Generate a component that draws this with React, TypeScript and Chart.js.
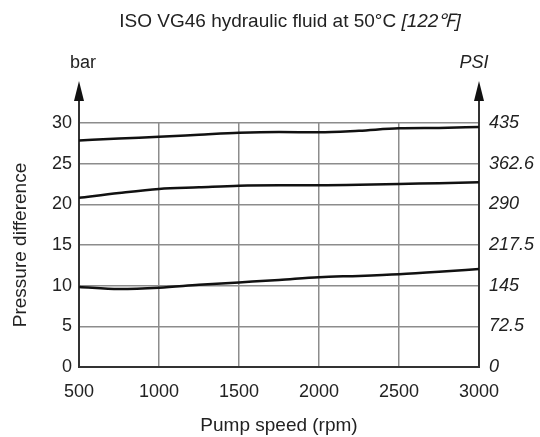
import React, { useEffect, useRef } from "react";
import { Chart, registerables } from "chart.js";

Chart.register(...registerables);

const pumpSpeed = [500, 750, 1000, 1250, 1500, 1750, 2000, 2250, 2500, 2750, 3000];
const upperCurve = [27.85, 28.1, 28.3, 28.55, 28.8, 28.9, 28.85, 29.05, 29.35, 29.4, 29.5];
const middleCurve = [20.8, 21.4, 21.9, 22.1, 22.3, 22.35, 22.35, 22.4, 22.5, 22.6, 22.7];
const lowerCurve = [9.85, 9.6, 9.75, 10.1, 10.4, 10.7, 11.05, 11.2, 11.4, 11.7, 12.05];

const psiTickValues = [0, 72.5, 145, 217.5, 290, 362.5, 435];
const psiTickLabels = ["0", "72.5", "145", "217.5", "290", "362.6", "435"];

const titleMain = "ISO VG46 hydraulic fluid at 50°C ";
const titleItalic = "[122℉]";
const leftUnit = "bar";
const rightUnit = "PSI";
const xTitle = "Pump speed (rpm)";
const yTitle = "Pressure difference";

const FONT = "'Liberation Sans', Arial, Helvetica, sans-serif";
const TEXT = "#222";
const AXIS = "#333";
const GRID = "#8c8c8c";

const decorPlugin = {
  id: "decor",
  afterDraw(chart: any) {
    const { ctx, chartArea } = chart;
    const { left, right, top } = chartArea;
    ctx.save();
    // axis arrows
    const tipY = 81;
    const headBase = 101;
    ctx.strokeStyle = AXIS;
    ctx.fillStyle = "#111";
    ctx.lineWidth = 2;
    [left, right].forEach((x: number) => {
      ctx.beginPath();
      ctx.moveTo(x, top);
      ctx.lineTo(x, headBase);
      ctx.stroke();
      ctx.beginPath();
      ctx.moveTo(x, tipY);
      ctx.lineTo(x - 5, headBase);
      ctx.lineTo(x + 5, headBase);
      ctx.closePath();
      ctx.fill();
    });
    // unit labels
    ctx.fillStyle = TEXT;
    ctx.textBaseline = "middle";
    ctx.textAlign = "center";
    ctx.font = `18px ${FONT}`;
    ctx.fillText(leftUnit, left + 4, 63);
    ctx.font = `italic 18px ${FONT}`;
    ctx.fillText(rightUnit, right - 5, 63);
    // title
    ctx.font = `19px ${FONT}`;
    const w1 = ctx.measureText(titleMain).width;
    ctx.font = `italic 19px ${FONT}`;
    const w2 = ctx.measureText(titleItalic).width;
    const cx = 290;
    const startX = cx - (w1 + w2) / 2;
    ctx.textAlign = "left";
    ctx.font = `19px ${FONT}`;
    ctx.fillText(titleMain, startX, 22);
    ctx.font = `italic 19px ${FONT}`;
    ctx.fillText(titleItalic, startX + w1, 22);
    ctx.restore();
  },
};

export default function App() {
  const ref = useRef<HTMLCanvasElement | null>(null);
  useEffect(() => {
    if (!ref.current) return;
    const mk = (d: number[]) => d.map((y, i) => ({ x: pumpSpeed[i], y }));
    const ds = (d: number[]) => ({
      data: mk(d),
      borderColor: "#111",
      borderWidth: 2.5,
      pointRadius: 0,
      tension: 0.4,
      cubicInterpolationMode: "monotone" as const,
      fill: false,
      yAxisID: "y",
    });
    const chart = new Chart(ref.current, {
      type: "line",
      data: { datasets: [ds(upperCurve), ds(middleCurve), ds(lowerCurve)] },
      options: {
        animation: false,
        responsive: false,
        maintainAspectRatio: false,
        layout: { padding: { top: 123, left: 0, right: 0, bottom: 0 } },
        plugins: { legend: { display: false }, tooltip: { enabled: false }, title: { display: false } },
        scales: {
          x: {
            type: "linear",
            min: 500,
            max: 3000,
            ticks: {
              stepSize: 500,
              color: TEXT,
              font: { family: FONT, size: 18 },
              padding: 14,
              callback: (v: any) => String(v),
            },
            grid: { color: GRID, lineWidth: 1.5, drawTicks: false },
            border: { color: AXIS, width: 2 },
            title: { display: true, text: xTitle, color: TEXT, font: { family: FONT, size: 19 }, padding: { top: 2, bottom: 0 } },
            afterFit: (s: any) => { s.height = 70; },
          },
          y: {
            type: "linear",
            position: "left",
            min: 0,
            max: 30,
            ticks: { stepSize: 5, color: TEXT, font: { family: FONT, size: 18 }, padding: 7 },
            grid: { color: GRID, lineWidth: 1.5, drawTicks: false },
            border: { color: AXIS, width: 2 },
            title: { display: true, text: yTitle, color: TEXT, font: { family: FONT, size: 19 }, padding: { bottom: 0, top: 9 } },
            afterFit: (s: any) => { s.width = 79; },
          },
          y2: {
            type: "linear",
            position: "right",
            min: 0,
            max: 435,
            afterBuildTicks: (s: any) => { s.ticks = psiTickValues.map((v) => ({ value: v })); },
            ticks: {
              color: TEXT,
              font: { family: FONT, size: 18, style: "italic" },
              padding: 10,
              callback: (v: any) => {
                const i = psiTickValues.indexOf(Number(v));
                return i >= 0 ? psiTickLabels[i] : "";
              },
            },
            grid: { drawOnChartArea: false, drawTicks: false },
            border: { color: AXIS, width: 2 },
            afterFit: (s: any) => { s.width = 61; },
          },
        },
      },
      plugins: [decorPlugin],
    });
    return () => chart.destroy();
  }, []);
  return (
    <div style={{ position: "fixed", left: 0, top: 0, width: 540, height: 437, background: "#fff" }}>
      <canvas ref={ref} width={540} height={437} style={{ width: 540, height: 437 }} />
    </div>
  );
}
